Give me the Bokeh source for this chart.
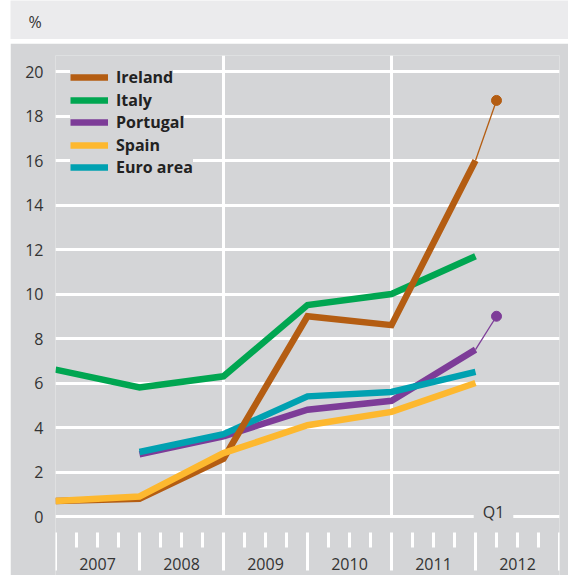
from bokeh.plotting import figure
from bokeh.models import FixedTicker, Range1d, Legend, LegendItem, Label, Spacer
from bokeh.layouts import column, row
from bokeh.embed import file_html
from bokeh.resources import INLINE
from bokeh.core.properties import value

# ---------------- data ----------------
# positions on the time axis (year ends: end-2006 ... end-2011), plus 2012 Q1
periods = [2007, 2008, 2009, 2010, 2011, 2012]
q1_period = 2012.25
ireland = [0.7, 0.8, 2.6, 9.0, 8.6, 16.0]
italy = [6.6, 5.8, 6.3, 9.5, 10.0, 11.7]
portugal = [float("nan"), 2.8, 3.6, 4.8, 5.2, 7.5]
spain = [0.7, 0.9, 2.85, 4.1, 4.7, 6.0]
euro_area = [float("nan"), 2.9, 3.7, 5.4, 5.6, 6.5]
ireland_q1 = 18.7
portugal_q1 = 9.0
years = [2007, 2008, 2009, 2010, 2011, 2012]
year_labels = ["2007", "2008", "2009", "2010", "2011", "2012"]
y_ticks = [0, 2, 4, 6, 8, 10, 12, 14, 16, 18, 20]
full_gridline_years = [2009, 2011]

# ---------------- styles ----------------
PANEL = "#d4d5d7"
BAND = "#ebebed"
TXT = "#333333"
FONT = "Open Sans"
C_IRE = "#b45d12"
C_ITA = "#00a651"
C_POR = "#7d3c98"
C_SPA = "#fdb82f"
C_EUR = "#00a1b1"
LW = 6.5
PX = 22.25          # pixels per percentage point
Y_TOP = 461 / PX    # frame top
Y_BOT = -59 / PX    # frame bottom (figure bottom)

p = figure(width=558, height=532, x_range=Range1d(2007, 2013), y_range=Range1d(Y_BOT, Y_TOP),
           output_backend="svg", toolbar_location=None, x_axis_location=None,
           min_border_left=45, min_border_right=9, min_border_top=12, min_border_bottom=0,
           background_fill_color=PANEL, border_fill_color=PANEL, outline_line_color=None)

# y axis
ya = p.yaxis[0]
ya.ticker = FixedTicker(ticks=y_ticks)
ya.axis_line_color = None
ya.major_tick_line_color = None
ya.minor_tick_line_color = None
ya.major_tick_out = 0
ya.major_tick_in = 0
ya.major_label_standoff = 12
ya.major_label_text_font = FONT
ya.major_label_text_font_size = "16px"
ya.major_label_text_color = TXT

p.xgrid.visible = False
p.ygrid.ticker = FixedTicker(ticks=y_ticks)
p.ygrid.grid_line_color = "white"
p.ygrid.grid_line_width = 3

# vertical white year lines
p.segment(x0=full_gridline_years, y0=[0] * len(full_gridline_years),
          x1=full_gridline_years, y1=[Y_TOP] * len(full_gridline_years),
          line_color="white", line_width=3)

# bottom time-axis ticks
boundaries = years + [years[-1] + 1]
quarters = [y + q / 4 for y in years for q in (1, 2, 3)]
t0 = -16 / PX
p.segment(x0=quarters, y0=[t0] * len(quarters), x1=quarters, y1=[-31 / PX] * len(quarters),
          line_color="white", line_width=3)
p.segment(x0=boundaries, y0=[t0] * len(boundaries), x1=boundaries, y1=[-54 / PX] * len(boundaries),
          line_color="white", line_width=3)
p.text(x=[y + 0.5 for y in years], y=[-47 / PX] * len(years), text=year_labels,
       text_align="center", text_baseline="middle", text_font=value(FONT),
       text_font_size="16px", text_color=TXT)

# series (draw order: Italy, Portugal, Euro area, Ireland, Spain)
kw = dict(line_width=LW, line_cap="butt", line_join="miter")
r_ita = p.line(periods, italy, line_color=C_ITA, **kw)
r_por = p.line(periods, portugal, line_color=C_POR, **kw)
p.line([periods[-1], q1_period], [portugal[-1], portugal_q1], line_color=C_POR, line_width=1.3)
p.scatter([q1_period], [portugal_q1], size=10, color=C_POR)
r_eur = p.line(periods, euro_area, line_color=C_EUR, **kw)
r_ire = p.line(periods, ireland, line_color=C_IRE, **kw)
p.line([periods[-1], q1_period], [ireland[-1], ireland_q1], line_color=C_IRE, line_width=1.3)
p.scatter([q1_period], [ireland_q1], size=10, color=C_IRE)
r_spa = p.line(periods, spain, line_color=C_SPA, **kw)

# Q1 marker label on the zero line
p.add_layout(Label(x=q1_period, y=0, text="Q1", text_align="center", text_baseline="middle",
                   x_offset=-3, y_offset=4.5, text_font=FONT, text_font_size="16px",
                   text_color=TXT, background_fill_color=PANEL, padding=(9, 2)))

# legend: one box per entry so each hides the grid only behind its own text
entries = [("Ireland", r_ire), ("Italy", r_ita), ("Portugal", r_por),
           ("Spain", r_spa), ("Euro area", r_eur)]
for i, (name, rend) in enumerate(entries):
    center = 76 + 22.5 * i - 55           # from frame top
    vy = 528 - (center + 11 + 9)          # legend bottom from frame bottom
    leg = Legend(items=[LegendItem(label=name, renderers=[rend])], location=(15, vy),
                 margin=0, padding=9, spacing=0, glyph_width=38, glyph_height=22,
                 label_height=22, label_standoff=8, background_fill_color=PANEL,
                 background_fill_alpha=1, border_line_color=None,
                 label_text_font=FONT, label_text_font_size="16px",
                 label_text_font_style="bold", label_text_color="#222222")
    p.add_layout(leg)

# top band with the unit
band = figure(width=558, height=39, x_range=Range1d(0, 1), y_range=Range1d(0, 1),
              output_backend="svg", toolbar_location=None, x_axis_location=None,
              y_axis_location=None, min_border=0, background_fill_color=BAND,
              border_fill_color=BAND, outline_line_color=None)
band.xgrid.visible = False
band.ygrid.visible = False
band.add_layout(Label(x=18, y=18, x_units="screen", y_units="screen", text="%",
                      text_baseline="middle", text_font=FONT, text_font_size="16px",
                      text_color=TXT))

layout = column(row(Spacer(width=10), band), Spacer(height=4), row(Spacer(width=10), p))
open("out.html", "w").write(file_html(layout, INLINE))
